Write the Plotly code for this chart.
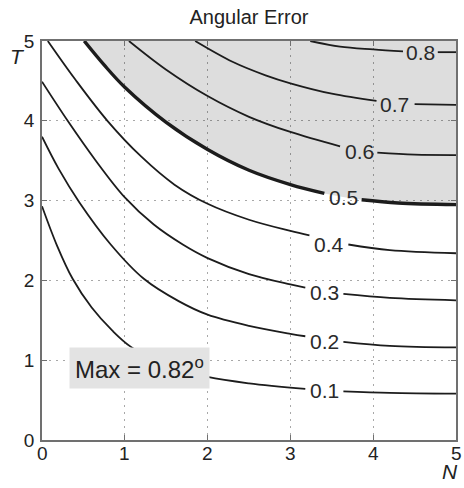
import plotly.graph_objects as go

# ---- data (N = x, T = y) ----
levels = [0.1, 0.2, 0.3, 0.4, 0.5, 0.6, 0.7, 0.8]
label_text = ["0.1", "0.2", "0.3", "0.4", "0.5", "0.6", "0.7", "0.8"]

# contour paths; None marks the gap left for the inline label
c01_N = [0.0, 0.18, 0.37, 0.6, 0.85, 1.07, 1.5, 2.0, 2.5, 3.18, None, 3.64, 4.2, 5.0]
c01_T = [2.93, 2.44, 2.02, 1.66, 1.37, 1.17, 0.93, 0.79, 0.71, 0.64, None, 0.61, 0.59, 0.58]

c02_N = [0.0, 0.2, 0.45, 0.83, 1.23, 1.65, 2.0, 2.5, 3.0, 3.18, None, 3.64, 4.2, 5.0]
c02_T = [3.80, 3.40, 2.98, 2.45, 2.02, 1.74, 1.57, 1.43, 1.33, 1.30, None, 1.23, 1.18, 1.16]

c03_N = [0.0, 0.31, 0.65, 1.0, 1.35, 1.7, 2.0, 2.5, 3.0, 3.18, None, 3.64, 4.2, 5.0]
c03_T = [4.49, 4.0, 3.5, 3.04, 2.70, 2.45, 2.28, 2.08, 1.95, 1.91, None, 1.83, 1.78, 1.75]

c04_N = [0.07, 0.4, 0.79, 1.2, 1.6, 2.0, 2.5, 3.0, 3.23, None, 3.70, 4.2, 5.0]
c04_T = [5.0, 4.52, 4.0, 3.55, 3.20, 2.96, 2.76, 2.62, 2.565, None, 2.45, 2.38, 2.34]

c05_N = [0.51, 0.75, 1.0, 1.5, 2.0, 2.5, 3.0, 3.41, None, 3.86, 4.3, 5.0]
c05_T = [5.0, 4.70, 4.42, 3.98, 3.64, 3.38, 3.20, 3.09, None, 3.01, 2.97, 2.95]

c06_N = [1.05, 1.5, 2.0, 2.5, 3.0, 3.6, None, 4.05, 4.5, 5.0]
c06_T = [5.0, 4.64, 4.31, 4.05, 3.86, 3.68, None, 3.60, 3.575, 3.57]

c07_N = [1.85, 2.3, 2.7, 3.0, 3.5, 4.04, None, 4.50, 5.0]
c07_T = [5.0, 4.74, 4.57, 4.47, 4.34, 4.25, None, 4.21, 4.20]

c08_N = [3.24, 3.6, 4.0, 4.36, None, 4.78, 5.0]
c08_T = [5.0, 4.93, 4.895, 4.87, None, 4.86, 4.86]

# inline label positions
label_N = [3.41, 3.41, 3.41, 3.47, 3.64, 3.83, 4.26, 4.57]
label_T = [0.62, 1.24, 1.85, 2.45, 3.04, 3.62, 4.21, 4.86]

tick_vals = [0, 1, 2, 3, 4, 5]
tick_text = ["0", "1", "2", "3", "4", "5"]
axis_max = 5
max_text = "Max = 0.82<sup>o</sup>"
max_pos = (1.18, 0.905)

paths_N = [c01_N, c02_N, c03_N, c04_N, c05_N, c06_N, c07_N, c08_N]
paths_T = [c01_T, c02_T, c03_T, c04_T, c05_T, c06_T, c07_T, c08_T]

FONT = "Liberation Sans, Arial, Helvetica, sans-serif"
INK = "#1c1c1c"
SMOOTH = 1.0

fig = go.Figure()

# shaded region: between the top edge and the 0.5 contour
fig.add_trace(go.Scatter(x=[c05_N[0], axis_max], y=[axis_max, axis_max], mode="lines",
                         line=dict(width=0), hoverinfo="skip", showlegend=False))
fill_N = [v for v in c05_N if v is not None]
fill_T = [v for v in c05_T if v is not None]
fig.add_trace(go.Scatter(x=fill_N, y=fill_T, mode="lines", fill="tonexty",
                         fillcolor="rgba(0,0,0,0.135)",
                         line=dict(width=0, shape="spline", smoothing=SMOOTH),
                         hoverinfo="skip", showlegend=False))

for lev, xs, ys in zip(levels, paths_N, paths_T):
    w = 3.4 if abs(lev - 0.5) < 1e-9 else 1.8
    fig.add_trace(go.Scatter(x=xs, y=ys, mode="lines",
                             line=dict(color=INK, width=w, shape="spline", smoothing=SMOOTH),
                             connectgaps=False, showlegend=False,
                             hoverinfo="skip"))

annotations = []
for n, t, s in zip(label_N, label_T, label_text):
    annotations.append(dict(x=n, y=t, xref="x", yref="y", text=s,
                            showarrow=False, xanchor="center", yanchor="middle",
                            font=dict(family=FONT, size=21, color="#2a2a2a")))

annotations.append(dict(x=max_pos[0], y=max_pos[1], xref="x", yref="y",
                        text=max_text, showarrow=False,
                        xanchor="center", yanchor="middle",
                        bgcolor="#e3e3e3", borderpad=5,
                        font=dict(family=FONT, size=24, color="#222")))

# x tick labels (placed as text just under the axis)
for v, s in zip(tick_vals, tick_text):
    annotations.append(dict(x=v, y=0, xref="x", yref="paper", text=s,
                            showarrow=False, xanchor="center", yanchor="top",
                            yshift=-1,
                            font=dict(family=FONT, size=19, color="#222")))

annotations.append(dict(x=-0.06, y=0.96, xref="paper", yref="paper",
                        text="<i>T</i>", showarrow=False,
                        xanchor="center", yanchor="middle",
                        font=dict(family=FONT, size=21, color="#222")))
annotations.append(dict(x=0.985, y=-0.08, xref="paper", yref="paper",
                        text="<i>N</i>", showarrow=False,
                        xanchor="center", yanchor="middle",
                        font=dict(family=FONT, size=21, color="#222")))

axis_common = dict(range=[0, axis_max], tickvals=tick_vals, ticktext=tick_text,
                   showgrid=True, gridcolor="#a8a8a8", griddash="2px,5px", gridwidth=1,
                   zeroline=False, showline=True, linecolor="#707070", linewidth=1.6,
                   mirror="ticks", ticks="inside", ticklen=5, tickcolor="#707070",
                   tickfont=dict(family=FONT, size=19, color="#222"),
                   fixedrange=True)

fig.update_layout(
    width=464, height=488,
    margin=dict(l=42, r=6, t=41, b=48),
    paper_bgcolor="white", plot_bgcolor="white",
    title=dict(text="Angular Error", x=0.5, xref="paper", xanchor="center",
               y=1 - 17 / 488, yref="container", yanchor="middle",
               font=dict(family=FONT, size=20, color="#222")),
    xaxis=dict(axis_common, showticklabels=False),
    yaxis=dict(axis_common, ticklabelstandoff=2),
    annotations=annotations,
    showlegend=False,
)

fig.write_html("out.html")
